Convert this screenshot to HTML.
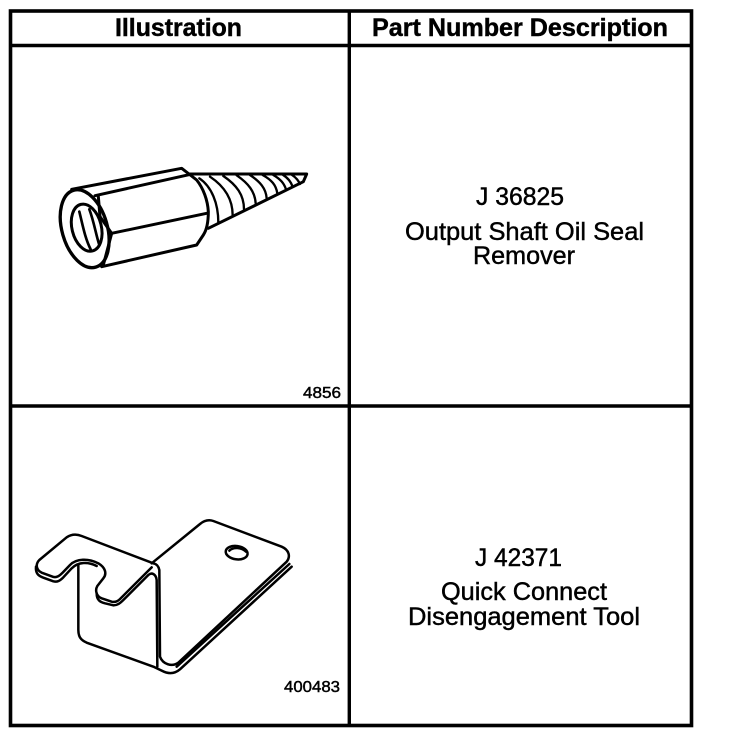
<!DOCTYPE html>
<html><head><meta charset="utf-8"><style>
html,body{margin:0;padding:0;background:#fff}
svg{display:block}
text{font-family:"Liberation Sans",sans-serif;fill:#000;stroke:#000;stroke-width:.45}
</style></head><body>
<svg width="736" height="748" viewBox="0 0 736 748" xmlns="http://www.w3.org/2000/svg">
<rect width="736" height="748" fill="#fff"/>
<g stroke="#000" stroke-width="3.4" fill="none">
<rect x="10.5" y="11" width="681" height="714.5" stroke-width="3.6"/>
<path d="M10 45.5H692M10 406H692M349.3 10V726"/>
</g>
<text x="115" y="36" font-size="25" font-weight="bold" textLength="127" lengthAdjust="spacingAndGlyphs">Illustration</text>
<text x="372" y="36" font-size="25" font-weight="bold" textLength="296" lengthAdjust="spacingAndGlyphs">Part Number Description</text>
<g font-size="25">
<text x="476" y="205" textLength="88" lengthAdjust="spacingAndGlyphs">J 36825</text>
<text x="405" y="240" textLength="239" lengthAdjust="spacingAndGlyphs">Output Shaft Oil Seal</text>
<text x="473" y="264" textLength="102" lengthAdjust="spacingAndGlyphs">Remover</text>
<text x="475" y="566" textLength="87" lengthAdjust="spacingAndGlyphs">J 42371</text>
<text x="441" y="600" textLength="166" lengthAdjust="spacingAndGlyphs">Quick Connect</text>
<text x="408" y="625" textLength="232" lengthAdjust="spacingAndGlyphs">Disengagement Tool</text>
</g>
<g font-size="16">
<text x="303" y="398" textLength="38" lengthAdjust="spacingAndGlyphs">4856</text>
<text x="284" y="692" textLength="56" lengthAdjust="spacingAndGlyphs">400483</text>
</g>

<!-- Nut / cone tool -->
<g transform="translate(40,150) scale(.33333)" fill="none" stroke="#000" stroke-width="9" stroke-linecap="round" stroke-linejoin="round">
<ellipse cx="134" cy="236" rx="68" ry="120" transform="rotate(-16 134 236)" stroke-width="10"/>
<ellipse cx="140" cy="233" rx="44" ry="72" transform="rotate(-14 140 233)" stroke-width="9"/>
<path d="M118 185C128 225 135 265 152 298M148 178C162 215 168 255 178 285" stroke-width="8"/>
<path d="M95 118L425 55L447 72L470 90C490 115 503 150 505 185C505 215 500 240 490 255L470 285L185 350"/>
<path d="M165 137L447 74"/>
<path d="M175 140L180 200L215 250L190 345"/>
<path d="M215 250L500 190"/>
<path d="M447 72H800L790 95L505 235"/>
<path d="M478 85C515 110 535 160 535 218M510 80C555 110 578 150 578 196M550 78C590 105 612 135 612 178M590 76C625 100 645 125 647 160M630 75C660 95 678 115 680 145M668 75C695 90 708 105 712 130M700 75C722 88 732 100 738 118M728 74C745 85 752 95 758 110M755 74C770 84 775 92 780 102" stroke-width="7"/>
</g>

<!-- Bracket -->
<g transform="translate(20,510) scale(.33333)" fill="none" stroke="#000" stroke-width="7.5" stroke-linecap="round" stroke-linejoin="round">
<path d="M400 160L185 78C170 72 155 72 140 82L58 150C46 162 48 180 65 188L98 200C110 204 118 198 128 188L150 165C170 145 205 145 235 160C255 172 262 190 250 205L232 228C225 240 228 258 245 265L275 275C288 278 296 272 305 262L395 172"/>
<path d="M48 170C46 190 55 198 70 203L100 214C112 217 120 212 130 202L155 175C175 155 205 155 230 168"/>
<path d="M230 250C230 270 240 276 255 280L280 286C292 286 300 280 310 270L385 195C395 186 408 192 410 210L412 470"/>
<path d="M395 160L540 42C552 32 565 28 580 33L785 110C808 120 812 140 800 155L475 458C455 472 428 462 420 440L418 180C416 170 410 162 400 160"/>
<path d="M815 170L480 478C460 495 440 490 425 482L400 470L200 398C182 390 175 380 175 360V165"/>
<path d="M808 162L470 470"/>
<ellipse cx="650" cy="128" rx="33" ry="20" transform="rotate(8 650 128)"/>
<path d="M628 122C640 110 665 112 678 125"/>
</g>
</svg>
</body></html>
